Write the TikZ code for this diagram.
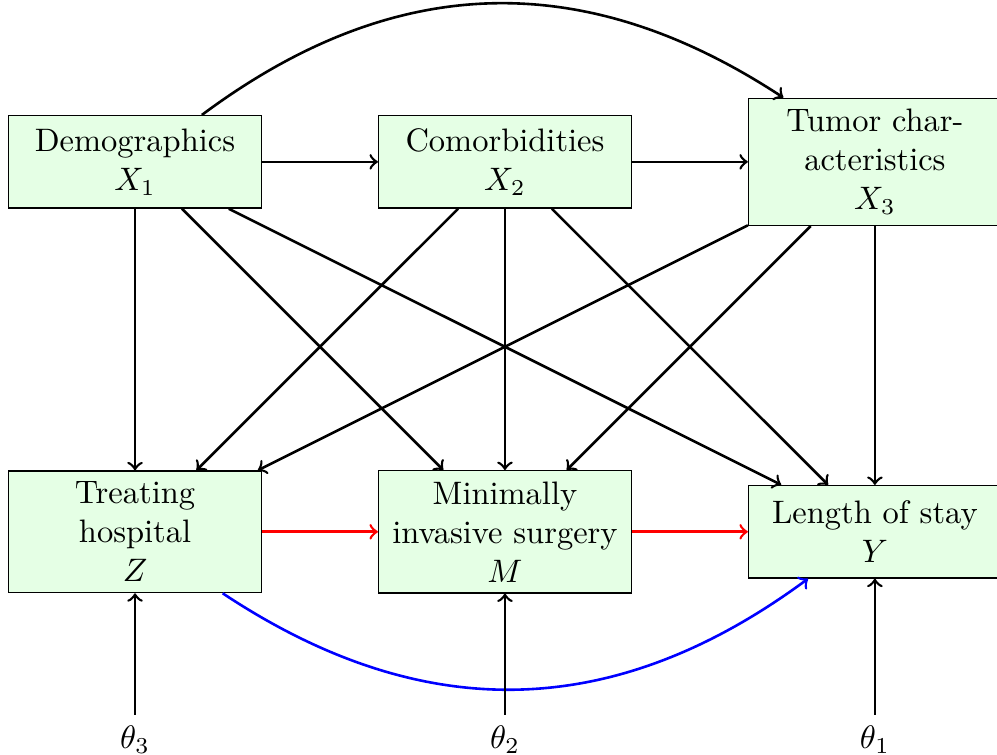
\documentclass[tikz,border=0pt]{standalone}
\usepackage{amsmath,amssymb}
\usepackage{xcolor}
\usetikzlibrary{positioning}
\definecolor{boxbg}{rgb}{0.9,1,0.9}

\begin{document}
\begin{tikzpicture}[node distance=4cm,on grid,
    box/.style={draw,fill=boxbg,text width=2.5cm,align=center,minimum height=1cm},
    link/.style={->,thick}]
  \useasboundingbox (-1.46,-6.41) rectangle (9.32,1.75);
  % covariates
  \node[box] (X1) {Demographics\\ $X_1$};
  \node[box,right=of X1] (X2) {Comorbidities\\ $X_2$};
  \node[box,right=of X2] (X3) {Tumor characteristics\\ $X_3$};
  % hospital, surgery, outcome
  \node[box,below=of X1] (Z) {Treating hospital\\ $Z$};
  \node[box,below=of X2] (M) {Minimally invasive surgery\\ $M$};
  \node[box,below=of X3] (Y) {Length of stay\\ $Y$};
  % noise terms
  \node[below=2.25cm of Z] (t3) {$\theta_3$};
  \node[below=2.25cm of M] (t2) {$\theta_2$};
  \node[below=2.25cm of Y] (t1) {$\theta_1$};

  \draw[link] (X1) -- (X2);
  \draw[link] (X2) -- (X3);
  \draw[link] (X1) to[bend left=35,looseness=1.05] (X3);
  \foreach \a in {X1,X2,X3}
    \foreach \b in {Z,M,Y}
      \draw[link] (\a) -- (\b);
  \draw[link,red] (Z) -- (M);
  \draw[link,red] (M) -- (Y);
  \draw[link,blue] (Z) to[bend right=35,looseness=1.05] (Y);
  \draw[link] (t3) -- (Z);
  \draw[link] (t2) -- (M);
  \draw[link] (t1) -- (Y);
\end{tikzpicture}
\end{document}
